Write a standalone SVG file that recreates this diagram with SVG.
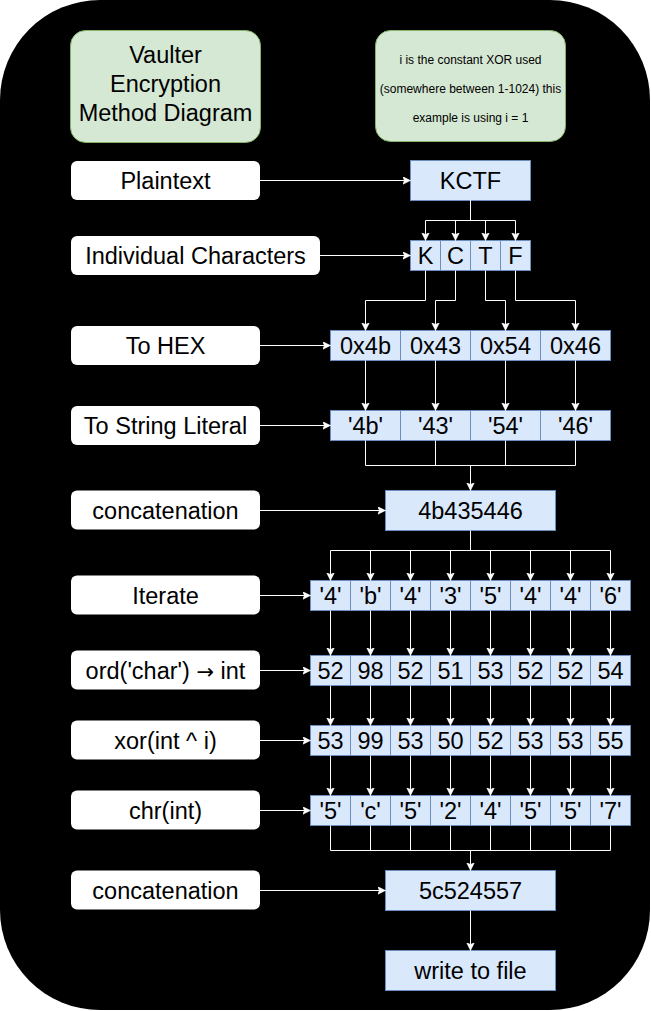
<svg xmlns="http://www.w3.org/2000/svg" width="651" height="1011" viewBox="0 0 651 1011">
<style>
.bg{fill:#000}
.green{fill:#d5e8d4;stroke:#82b366;stroke-width:1}
.lbl{fill:#fff;stroke:none}
.cell{fill:#dae8fc;stroke:#6c8ebf;stroke-width:1}
text{font-family:"Liberation Sans",Arial,Helvetica,sans-serif;fill:#000;text-anchor:middle}
.t{font-size:23.5px}
.s{font-size:12px}
.ar{font-family:"DejaVu Sans",sans-serif;font-size:21px}
.c{fill:none;stroke:#fff;stroke-width:1}
.a{marker-end:url(#arr)}
</style>
<defs>
<marker id="arr" markerUnits="userSpaceOnUse" markerWidth="10" markerHeight="10" refX="8" refY="4" orient="auto">
<path d="M0,0 L8,4 L0,8 L2,4 z" fill="#fff" stroke="#fff" stroke-width="0.5"/>
</marker>
</defs>
<rect class="bg" x="0" y="0" width="650" height="1010" rx="100" ry="100"/>

<g id="title">
<rect class="green" x="70.5" y="30.5" width="190" height="112" rx="15"/>
<text class="t" x="165.5" y="63">Vaulter</text>
<text class="t" x="165.5" y="92">Encryption</text>
<text class="t" x="165.5" y="121">Method Diagram</text>
</g>
<g id="note">
<rect class="green" x="375.5" y="30.5" width="190" height="111" rx="15"/>
<text class="s" x="470.5" y="64">i is the constant XOR used</text>
<text class="s" x="470.5" y="93">(somewhere between 1-1024) this</text>
<text class="s" x="470.5" y="122">example is using i = 1</text>
</g>

<g id="lbl-plaintext"><rect class="lbl" x="71" y="161" width="189" height="39" rx="6"/><text class="t" x="165.5" y="189">Plaintext</text></g>
<g id="lbl-chars"><rect class="lbl" x="71" y="236" width="249" height="39" rx="6"/><text class="t" x="195.5" y="264">Individual Characters</text></g>
<g id="lbl-hex"><rect class="lbl" x="71" y="326" width="189" height="39" rx="6"/><text class="t" x="165.5" y="354">To HEX</text></g>
<g id="lbl-literal"><rect class="lbl" x="71" y="406" width="189" height="39" rx="6"/><text class="t" x="165.5" y="434">To String Literal</text></g>
<g id="lbl-concat1"><rect class="lbl" x="71" y="490.5" width="189" height="39" rx="6"/><text class="t" x="165.5" y="518.5">concatenation</text></g>
<g id="lbl-iterate"><rect class="lbl" x="71" y="575.5" width="189" height="39" rx="6"/><text class="t" x="165.5" y="603.5">Iterate</text></g>
<g id="lbl-ord"><rect class="lbl" x="71" y="650.5" width="189" height="39" rx="6"/><text class="t" x="165.5" y="678.5">ord('char') <tspan class="ar">→</tspan> int</text></g>
<g id="lbl-xor"><rect class="lbl" x="71" y="720.5" width="189" height="39" rx="6"/><text class="t" x="165.5" y="748.5">xor(int ^ i)</text></g>
<g id="lbl-chr"><rect class="lbl" x="71" y="790.5" width="189" height="39" rx="6"/><text class="t" x="165.5" y="818.5">chr(int)</text></g>
<g id="lbl-concat2"><rect class="lbl" x="71" y="870.5" width="189" height="39" rx="6"/><text class="t" x="165.5" y="898.5">concatenation</text></g>

<g id="kctf"><rect class="cell" x="410.5" y="160.5" width="120" height="40"/><text class="t" x="470.5" y="189">KCTF</text></g>
<g id="chars">
<rect class="cell" x="410.5" y="240.5" width="30" height="30"/><text class="t" x="425.5" y="264">K</text>
<rect class="cell" x="440.5" y="240.5" width="30" height="30"/><text class="t" x="455.5" y="264">C</text>
<rect class="cell" x="470.5" y="240.5" width="30" height="30"/><text class="t" x="485.5" y="264">T</text>
<rect class="cell" x="500.5" y="240.5" width="30" height="30"/><text class="t" x="515.5" y="264">F</text>
</g>
<g id="hex">
<rect class="cell" x="330.5" y="330.5" width="70" height="30"/><text class="t" x="365.5" y="354">0x4b</text>
<rect class="cell" x="400.5" y="330.5" width="70" height="30"/><text class="t" x="435.5" y="354">0x43</text>
<rect class="cell" x="470.5" y="330.5" width="70" height="30"/><text class="t" x="505.5" y="354">0x54</text>
<rect class="cell" x="540.5" y="330.5" width="70" height="30"/><text class="t" x="575.5" y="354">0x46</text>
</g>
<g id="literal">
<rect class="cell" x="330.5" y="410.5" width="70" height="30"/><text class="t" x="365.5" y="434">'4b'</text>
<rect class="cell" x="400.5" y="410.5" width="70" height="30"/><text class="t" x="435.5" y="434">'43'</text>
<rect class="cell" x="470.5" y="410.5" width="70" height="30"/><text class="t" x="505.5" y="434">'54'</text>
<rect class="cell" x="540.5" y="410.5" width="70" height="30"/><text class="t" x="575.5" y="434">'46'</text>
</g>
<g id="concat1"><rect class="cell" x="385.5" y="490.5" width="170" height="40"/><text class="t" x="470.5" y="519">4b435446</text></g>
<g id="iterate">
<rect class="cell" x="310.5" y="580.5" width="40" height="30"/><text class="t" x="330.5" y="604">'4'</text>
<rect class="cell" x="350.5" y="580.5" width="40" height="30"/><text class="t" x="370.5" y="604">'b'</text>
<rect class="cell" x="390.5" y="580.5" width="40" height="30"/><text class="t" x="410.5" y="604">'4'</text>
<rect class="cell" x="430.5" y="580.5" width="40" height="30"/><text class="t" x="450.5" y="604">'3'</text>
<rect class="cell" x="470.5" y="580.5" width="40" height="30"/><text class="t" x="490.5" y="604">'5'</text>
<rect class="cell" x="510.5" y="580.5" width="40" height="30"/><text class="t" x="530.5" y="604">'4'</text>
<rect class="cell" x="550.5" y="580.5" width="40" height="30"/><text class="t" x="570.5" y="604">'4'</text>
<rect class="cell" x="590.5" y="580.5" width="40" height="30"/><text class="t" x="610.5" y="604">'6'</text>
</g>
<g id="ord">
<rect class="cell" x="310.5" y="655.5" width="40" height="30"/><text class="t" x="330.5" y="679">52</text>
<rect class="cell" x="350.5" y="655.5" width="40" height="30"/><text class="t" x="370.5" y="679">98</text>
<rect class="cell" x="390.5" y="655.5" width="40" height="30"/><text class="t" x="410.5" y="679">52</text>
<rect class="cell" x="430.5" y="655.5" width="40" height="30"/><text class="t" x="450.5" y="679">51</text>
<rect class="cell" x="470.5" y="655.5" width="40" height="30"/><text class="t" x="490.5" y="679">53</text>
<rect class="cell" x="510.5" y="655.5" width="40" height="30"/><text class="t" x="530.5" y="679">52</text>
<rect class="cell" x="550.5" y="655.5" width="40" height="30"/><text class="t" x="570.5" y="679">52</text>
<rect class="cell" x="590.5" y="655.5" width="40" height="30"/><text class="t" x="610.5" y="679">54</text>
</g>
<g id="xor">
<rect class="cell" x="310.5" y="725.5" width="40" height="30"/><text class="t" x="330.5" y="749">53</text>
<rect class="cell" x="350.5" y="725.5" width="40" height="30"/><text class="t" x="370.5" y="749">99</text>
<rect class="cell" x="390.5" y="725.5" width="40" height="30"/><text class="t" x="410.5" y="749">53</text>
<rect class="cell" x="430.5" y="725.5" width="40" height="30"/><text class="t" x="450.5" y="749">50</text>
<rect class="cell" x="470.5" y="725.5" width="40" height="30"/><text class="t" x="490.5" y="749">52</text>
<rect class="cell" x="510.5" y="725.5" width="40" height="30"/><text class="t" x="530.5" y="749">53</text>
<rect class="cell" x="550.5" y="725.5" width="40" height="30"/><text class="t" x="570.5" y="749">53</text>
<rect class="cell" x="590.5" y="725.5" width="40" height="30"/><text class="t" x="610.5" y="749">55</text>
</g>
<g id="chr">
<rect class="cell" x="310.5" y="795.5" width="40" height="30"/><text class="t" x="330.5" y="819">'5'</text>
<rect class="cell" x="350.5" y="795.5" width="40" height="30"/><text class="t" x="370.5" y="819">'c'</text>
<rect class="cell" x="390.5" y="795.5" width="40" height="30"/><text class="t" x="410.5" y="819">'5'</text>
<rect class="cell" x="430.5" y="795.5" width="40" height="30"/><text class="t" x="450.5" y="819">'2'</text>
<rect class="cell" x="470.5" y="795.5" width="40" height="30"/><text class="t" x="490.5" y="819">'4'</text>
<rect class="cell" x="510.5" y="795.5" width="40" height="30"/><text class="t" x="530.5" y="819">'5'</text>
<rect class="cell" x="550.5" y="795.5" width="40" height="30"/><text class="t" x="570.5" y="819">'5'</text>
<rect class="cell" x="590.5" y="795.5" width="40" height="30"/><text class="t" x="610.5" y="819">'7'</text>
</g>
<g id="concat2"><rect class="cell" x="385.5" y="870.5" width="170" height="40"/><text class="t" x="470.5" y="899">5c524557</text></g>
<g id="write"><rect class="cell" x="385.5" y="950.5" width="170" height="40"/><text class="t" x="470.5" y="979">write to file</text></g>

<g id="connectors" class="c">
<path class="a" d="M260,180.5 H410.5"/>
<path class="a" d="M470.5,200.5 V220.5 H425.5 V240.5"/>
<path class="a" d="M470.5,200.5 V220.5 H455.5 V240.5"/>
<path class="a" d="M470.5,200.5 V220.5 H485.5 V240.5"/>
<path class="a" d="M470.5,200.5 V220.5 H515.5 V240.5"/>
<path class="a" d="M320,255.5 H410.5"/>
<path class="a" d="M425.5,270.5 V300.5 H365.5 V330.5"/>
<path class="a" d="M455.5,270.5 V300.5 H435.5 V330.5"/>
<path class="a" d="M485.5,270.5 V300.5 H505.5 V330.5"/>
<path class="a" d="M515.5,270.5 V300.5 H575.5 V330.5"/>
<path class="a" d="M260,345.5 H330.5"/>
<path class="a" d="M365.5,360.5 V410.5"/>
<path class="a" d="M435.5,360.5 V410.5"/>
<path class="a" d="M505.5,360.5 V410.5"/>
<path class="a" d="M575.5,360.5 V410.5"/>
<path class="a" d="M260,425.5 H330.5"/>
<path d="M365.5,440.5 V465.5 H575.5 M435.5,440.5 V465.5 M505.5,440.5 V465.5 M575.5,440.5 V465.5"/>
<path class="a" d="M470.5,465.5 V490.5"/>
<path class="a" d="M260,510.5 H385.5"/>
<path d="M470.5,530.5 V550.5 M330.5,550.5 H610.5"/>
<path class="a" d="M330.5,550.5 V580.5"/>
<path class="a" d="M370.5,550.5 V580.5"/>
<path class="a" d="M410.5,550.5 V580.5"/>
<path class="a" d="M450.5,550.5 V580.5"/>
<path class="a" d="M490.5,550.5 V580.5"/>
<path class="a" d="M530.5,550.5 V580.5"/>
<path class="a" d="M570.5,550.5 V580.5"/>
<path class="a" d="M610.5,550.5 V580.5"/>
<path class="a" d="M260,595.5 H310.5"/>
<path class="a" d="M330.5,610.5 V655.5"/>
<path class="a" d="M370.5,610.5 V655.5"/>
<path class="a" d="M410.5,610.5 V655.5"/>
<path class="a" d="M450.5,610.5 V655.5"/>
<path class="a" d="M490.5,610.5 V655.5"/>
<path class="a" d="M530.5,610.5 V655.5"/>
<path class="a" d="M570.5,610.5 V655.5"/>
<path class="a" d="M610.5,610.5 V655.5"/>
<path class="a" d="M260,670.5 H310.5"/>
<path class="a" d="M330.5,685.5 V725.5"/>
<path class="a" d="M370.5,685.5 V725.5"/>
<path class="a" d="M410.5,685.5 V725.5"/>
<path class="a" d="M450.5,685.5 V725.5"/>
<path class="a" d="M490.5,685.5 V725.5"/>
<path class="a" d="M530.5,685.5 V725.5"/>
<path class="a" d="M570.5,685.5 V725.5"/>
<path class="a" d="M610.5,685.5 V725.5"/>
<path class="a" d="M260,740.5 H310.5"/>
<path class="a" d="M330.5,755.5 V795.5"/>
<path class="a" d="M370.5,755.5 V795.5"/>
<path class="a" d="M410.5,755.5 V795.5"/>
<path class="a" d="M450.5,755.5 V795.5"/>
<path class="a" d="M490.5,755.5 V795.5"/>
<path class="a" d="M530.5,755.5 V795.5"/>
<path class="a" d="M570.5,755.5 V795.5"/>
<path class="a" d="M610.5,755.5 V795.5"/>
<path class="a" d="M260,810.5 H310.5"/>
<path d="M330.5,825.5 V850.5 H610.5 V825.5 M370.5,825.5 V850.5 M410.5,825.5 V850.5 M450.5,825.5 V850.5 M490.5,825.5 V850.5 M530.5,825.5 V850.5 M570.5,825.5 V850.5"/>
<path class="a" d="M470.5,850.5 V870.5"/>
<path class="a" d="M260,890.5 H385.5"/>
<path class="a" d="M470.5,910.5 V950.5"/>
</g>
</svg>
